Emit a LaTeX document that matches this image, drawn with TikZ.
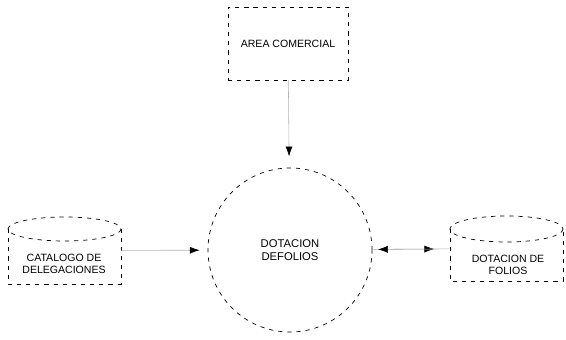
\documentclass[tikz,border=0pt]{standalone}
\usepackage{fontspec}
\setmainfont{Liberation Sans}
\usetikzlibrary{arrows.meta}
\begin{document}
\begin{tikzpicture}[x=0.025cm, y=-0.025cm,
  outline/.style={draw, line width=0.5pt, dash pattern=on 3pt off 3.5pt},
  lbl/.style={align=center, inner sep=0pt, font=\fontsize{7.5}{8.5}\selectfont},
  flow/.style={draw=black!30, line width=0.4pt},
  tip/.style={-{Latex[length=7pt,width=5pt,color=black]}}]
\useasboundingbox (0,0) rectangle (566,340);
\node[outline, rectangle, minimum width=3cm, minimum height=1.825cm, lbl] (area) at (288,43.5){AREA COMERCIAL};
\node[outline, circle, minimum size=4.1cm, lbl, font=\fontsize{8}{9.2}\selectfont] (proc) at (290,250){DOTACION\\DEFOLIOS};
\node[rectangle, minimum width=2.825cm, minimum height=1.675cm] (catalogo) at (64.5,250.5){};
\node[lbl] (catalogotxt) at (64,264){CATALOGO DE\\DELEGACIONES};
\draw[outline] (64.5,229) ellipse [x radius=56.5, y radius=12];
\draw[outline] (8,229) -- (8,284) -- (121,284) -- (121,229);
\node[rectangle, minimum width=2.825cm, minimum height=1.625cm] (folios) at (506.5,248.5){};
\node[lbl] (foliostxt) at (508,265){DOTACION DE\\FOLIOS};
\draw[outline] (506.5,229) ellipse [x radius=56.5, y radius=13];
\draw[outline] (450,229) -- (450,281) -- (563,281) -- (563,229);
\draw[flow, tip, shorten >=8pt](area) -- (proc);
\draw[flow, tip, shorten >=5.7pt](catalogo) -- (proc);
\draw[flow, tip, shorten >=11pt](proc) -- (folios);
\draw[flow, tip, shorten >=4pt](folios) -- (proc);
\end{tikzpicture}
\end{document}
